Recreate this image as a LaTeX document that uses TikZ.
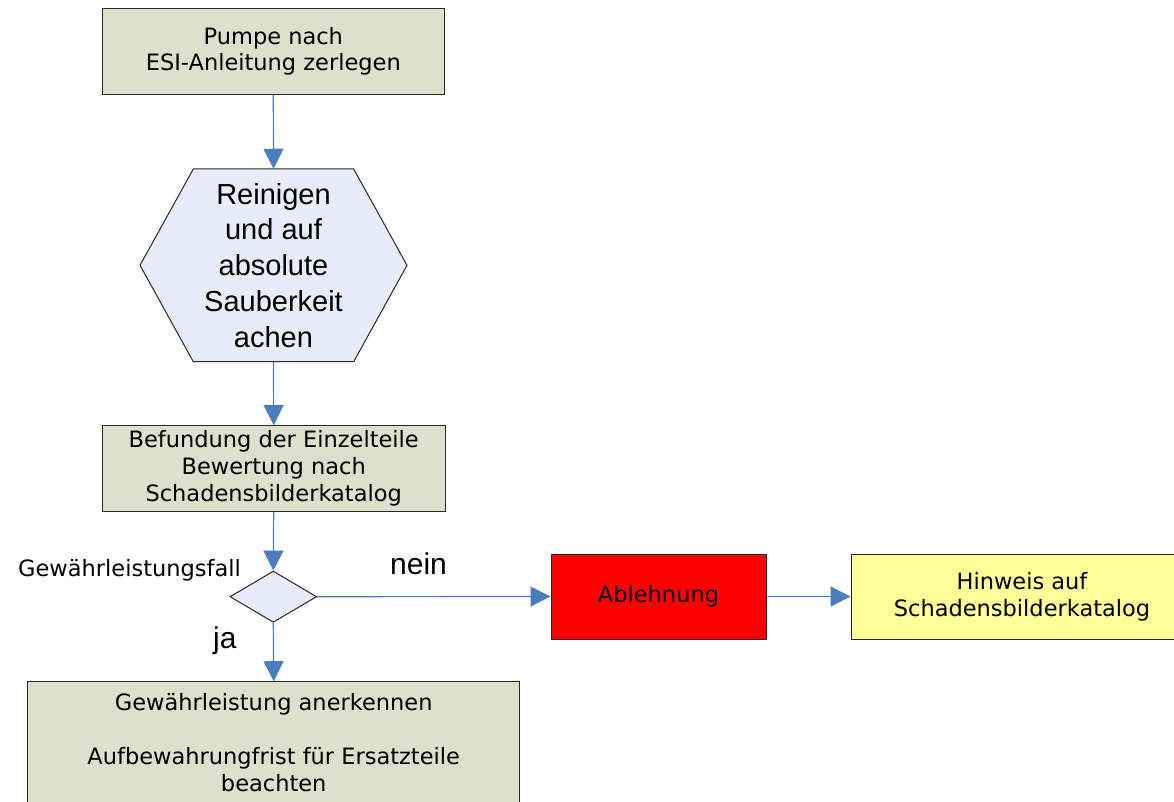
\documentclass[tikz,border=0pt]{standalone}
\usepackage{fontspec}
\setmainfont{DejaVu Sans}
\newfontfamily\arialf{Liberation Sans}
\usetikzlibrary{arrows.meta,shapes.geometric}
\definecolor{boxgreen}{RGB}{221,224,203}
\definecolor{paleblue}{RGB}{230,236,248}
\definecolor{arrowblue}{RGB}{74,126,187}
\definecolor{hintyellow}{RGB}{255,255,153}
\definecolor{edgegray}{RGB}{40,40,40}
\begin{document}
\begin{tikzpicture}[x=1pt,y=-1pt,
  box/.style={draw=edgegray, line width=1pt, rectangle, inner sep=0pt, align=center,
    font=\fontsize{22.5}{27}\selectfont},
  conn/.style={draw=arrowblue, line width=1.2pt, -{Triangle[length=20pt,width=20pt]}},
  lbl/.style={anchor=base west, inner sep=0pt}]
\useasboundingbox (0,0) rectangle (1174,802);
\clip (0,0) rectangle (1174,802);

% top box
\node[box, fill=boxgreen, minimum width=342pt, minimum height=86pt,
  font=\fontsize{22.5}{26}\selectfont] (b1) at (273.3,51.3)
  {Pumpe nach\\ESI-Anleitung zerlegen};

% hexagon
\draw[fill=paleblue, draw=edgegray, line width=1pt]
  (140,265.3) -- (193.3,169) -- (353.7,169) -- (407,265.3)
  -- (353.7,361.7) -- (193.3,361.7) -- cycle;
\node[minimum width=267pt, minimum height=192.7pt, inner sep=0pt, align=center,
  font=\arialf\fontsize{29}{35.7}\selectfont] (hex) at (273.5,265.3)
  {Reinigen\\und auf\\absolute\\Sauberkeit\\achen};

% second box
\node[box, fill=boxgreen, minimum width=342.7pt, minimum height=86pt] (b2)
  at (273.7,468.7) {Befundung der Einzelteile\\Bewertung nach\\Schadensbilderkatalog};

% decision
\node[diamond, draw=edgegray, line width=1pt, fill=paleblue, minimum width=86.7pt,
  minimum height=51.3pt, inner sep=0pt] (dec) at (273.3,596.7) {};

% rejection and hint
\node[box, fill=red, minimum width=215pt, minimum height=85pt] (abl)
  at (658.5,596.5) {Ablehnung};
\node[box, fill=hintyellow, minimum width=342pt, minimum height=85pt] (hin)
  at (1022,596.5) {Hinweis auf\\Schadensbilderkatalog};

% bottom box
\node[box, fill=boxgreen, minimum width=491.7pt, minimum height=122pt] (b3)
  at (273.7,742.7)
  {Gewährleistung anerkennen\\[27pt]Aufbewahrungfrist für Ersatzteile\\beachten};

% labels
\node[lbl, font=\fontsize{22.5}{27}\selectfont] (lfall) at (18,576.7) {Gewährleistungsfall};
\node[lbl, font=\arialf\fontsize{30}{36}\selectfont] (lnein) at (390,574.3) {nein};
\node[lbl, font=\arialf\fontsize{30}{36}\selectfont] (lja) at (213,648.3) {ja};

% connectors
\draw[conn] (b1.south) -- (hex.north);
\draw[conn] (hex.south) -- (b2.north);
\draw[conn] (b2.south) -- (dec.north);
\draw[conn] (dec.south) -- (b3.north);
\draw[conn] (dec.east) -- (abl.west);
\draw[conn] (abl.east) -- (hin.west);
\end{tikzpicture}
\end{document}
